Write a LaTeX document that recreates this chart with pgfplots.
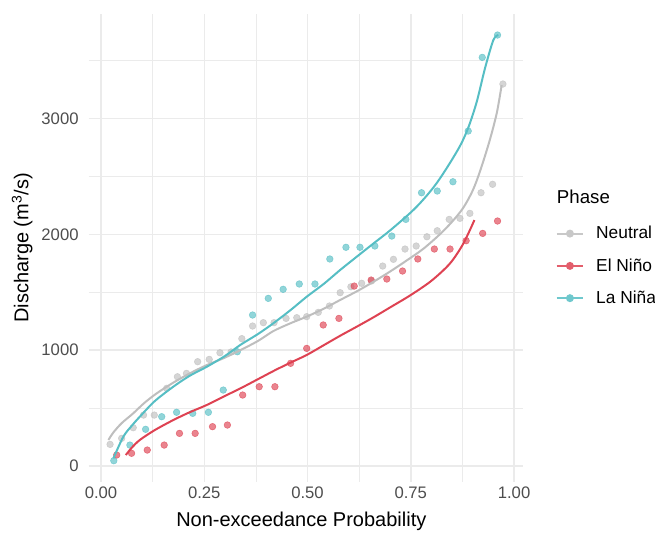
\documentclass[border=0pt]{standalone}
\usepackage{pgfplots}
\pgfplotsset{compat=1.18}
\usepackage{fontspec}
\setmainfont{Liberation Sans}
\definecolor{cNeu}{RGB}{190,190,190}
\definecolor{cElN}{RGB}{222,66,82}
\definecolor{cLaN}{RGB}{86,190,196}
\definecolor{gridc}{RGB}{235,235,235}
\definecolor{tickc}{RGB}{77,77,77}
\begin{document}
\begin{tikzpicture}
\useasboundingbox (-66.45pt,-37.5pt) rectangle (424.8pt,361.5pt);
\begin{axis}[
  scale only axis, width=325.6pt, height=351.2pt,
  xmin=-0.03, xmax=1.021, ymin=-138, ymax=3906,
  clip mode=individual,
  xtick={0,0.25,0.5,0.75,1}, minor xtick={0.125,0.375,0.625,0.875},
  ytick={0,1000,2000,3000}, minor ytick={500,1500,2500,3500},
  grid=both,
  major grid style={color=gridc, line width=1.1pt},
  minor grid style={color=gridc, line width=0.55pt},
  major tick length=0pt, minor tick length=0pt,
  axis line style={draw=none},
  /pgf/number format/assume math mode=true,
  xticklabel style={/pgf/number format/fixed, /pgf/number format/fixed zerofill, /pgf/number format/precision=2},
  yticklabel style={xshift=-4pt, /pgf/number format/1000 sep={}},
  tick label style={font=\fontsize{12.5}{15}\selectfont, text=tickc},
  xlabel={Non-exceedance Probability},
  ylabel={Discharge (m\textsuperscript{3}/s)},
  label style={font=\fontsize{15}{18}\selectfont},
  xlabel style={at={(axis description cs:0.49,-0.085)}, anchor=center},
  ylabel style={at={(axis description cs:-0.153,0.5)}, anchor=center},
  legend style={draw=none, fill=none, at={(1.066,0.558)}, anchor=north west,
    font=\fontsize{13}{15}\selectfont, row sep=9.3pt},
  legend cell align=left,
  legend image code/.code={\draw[mark repeat=2,mark phase=2,#1] plot coordinates {(0cm,0cm) (0.35cm,0cm) (0.7cm,0cm)};},
]
\addlegendimage{cNeu!85!white, line width=1.5pt, mark=*, mark size=2.2pt}
\addlegendentry{\hspace*{7pt}Neutral}
\addlegendimage{cElN!85!white, line width=1.5pt, mark=*, mark size=2.2pt}
\addlegendentry{\hspace*{7pt}El Niño}
\addlegendimage{cLaN!85!white, line width=1.5pt, mark=*, mark size=2.2pt}
\addlegendentry{\hspace*{7pt}La Niña}

% points
\addplot[only marks, mark=*, mark size=2.5pt, color=cNeu, opacity=0.65, forget plot] coordinates {
(0.022,187) (0.050,239) (0.078,331) (0.103,440) (0.129,440) (0.159,671) (0.185,771)
(0.207,800) (0.234,901) (0.262,921) (0.288,978) (0.315,985) (0.341,1100) (0.367,1209)
(0.393,1238) (0.419,1238) (0.448,1275) (0.474,1281) (0.498,1290) (0.526,1327) (0.553,1382)
(0.579,1497) (0.605,1548) (0.631,1578) (0.655,1598) (0.682,1727) (0.708,1785) (0.736,1874)
(0.763,1900) (0.789,1980) (0.814,2032) (0.843,2130) (0.869,2139) (0.893,2182) (0.920,2360)
(0.948,2433) (0.973,3299)};
\addplot[only marks, mark=*, mark size=2.5pt, color=cElN, opacity=0.65, forget plot] coordinates {
(0.038,95) (0.074,110) (0.112,138) (0.153,181) (0.190,282) (0.228,282) (0.270,340)
(0.306,354) (0.343,613) (0.383,685) (0.421,685) (0.459,887) (0.498,1016) (0.538,1218)
(0.576,1275) (0.613,1554) (0.654,1606) (0.692,1615) (0.730,1684) (0.767,1788) (0.807,1874)
(0.845,1874) (0.884,1946) (0.924,2009) (0.960,2116)};
\addplot[only marks, mark=*, mark size=2.5pt, color=cLaN, opacity=0.65, forget plot] coordinates {
(0.031,46) (0.070,181) (0.108,317) (0.147,426) (0.183,464) (0.222,455) (0.260,464)
(0.296,656) (0.330,987) (0.367,1304) (0.405,1448) (0.441,1526) (0.480,1572) (0.518,1572)
(0.554,1788) (0.593,1889) (0.627,1889) (0.663,1900) (0.704,1986) (0.738,2130) (0.776,2360)
(0.814,2375) (0.852,2455) (0.889,2893) (0.923,3529) (0.960,3722)};

% fitted curves
\addplot[cNeu, line width=1.5pt, smooth, forget plot] coordinates {
(0.018,225) (0.03,290) (0.05,370) (0.078,455) (0.105,545) (0.135,628) (0.175,720)
(0.215,800) (0.255,870) (0.296,930) (0.337,1000) (0.38,1080) (0.417,1165) (0.46,1235)
(0.498,1290) (0.54,1360) (0.579,1434) (0.62,1510) (0.66,1592) (0.70,1680) (0.74,1775)
(0.78,1875) (0.82,2000) (0.85,2110) (0.877,2230) (0.90,2380) (0.918,2550)
(0.94,2800) (0.958,3046) (0.970,3290)};
\addplot[cElN, line width=1.5pt, smooth, forget plot] coordinates {
(0.06,95) (0.075,160) (0.094,225) (0.13,310) (0.175,397) (0.215,465) (0.256,527)
(0.30,605) (0.34,675) (0.38,750) (0.42,825) (0.46,895) (0.498,959) (0.54,1045)
(0.579,1125) (0.62,1205) (0.66,1285) (0.70,1370) (0.75,1477) (0.80,1600) (0.845,1750)
(0.877,1920) (0.904,2124)};
\addplot[cLaN, line width=1.5pt, smooth, forget plot] coordinates {
(0.03,66) (0.054,253) (0.075,350) (0.094,426) (0.13,560) (0.175,685) (0.215,780)
(0.256,857) (0.30,950) (0.337,1045) (0.38,1140) (0.417,1232) (0.46,1350) (0.498,1462)
(0.54,1575) (0.579,1693) (0.62,1810) (0.66,1923) (0.70,2035) (0.75,2190) (0.78,2300)
(0.81,2430) (0.84,2590) (0.87,2770) (0.89,2930) (0.91,3150) (0.93,3440) (0.95,3680)
(0.962,3722)};

\node[anchor=west, font=\fontsize{14}{17}\selectfont] at (axis description cs:1.068,0.6086) {Phase};
\end{axis}
\end{tikzpicture}
\end{document}
